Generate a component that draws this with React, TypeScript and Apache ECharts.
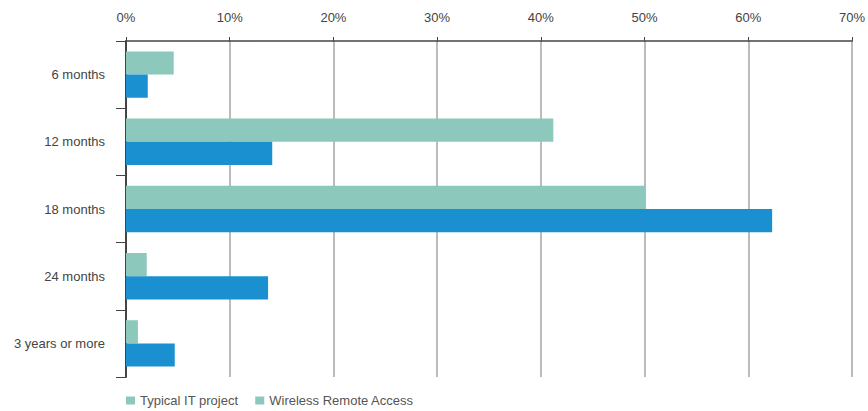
import React, { useEffect, useRef } from "react";
import * as echarts from "echarts";

const categories = ["6 months", "12 months", "18 months", "24 months", "3 years or more"];
const typicalIT = [4.6, 41.2, 50.1, 2.0, 1.15];
const wirelessRemote = [2.1, 14.1, 62.3, 13.7, 4.7];
const seriesNames = ["Typical IT project", "Wireless Remote Access"];

const GREEN = "#8cc8bb";
const BLUE = "#1b90d0";
const FONT = "'Liberation Sans', Arial, sans-serif";

export default function App() {
  const ref = useRef<HTMLDivElement>(null);
  useEffect(() => {
    if (!ref.current) return;
    const chart = echarts.init(ref.current, undefined, { renderer: "svg" });
    chart.setOption({
      animation: false,
      textStyle: { fontFamily: FONT },
      grid: { left: 126, right: 13, top: 41, bottom: 34, containLabel: false },
      legend: {
        left: 121,
        top: 389,
        icon: "rect",
        itemWidth: 9,
        itemHeight: 8,
        itemGap: 17,
        textStyle: { color: "#555", fontSize: 13, fontFamily: FONT },
        data: [
          { name: seriesNames[0], itemStyle: { color: GREEN } },
          { name: seriesNames[1], itemStyle: { color: GREEN } },
        ],
      },
      xAxis: {
        type: "value",
        position: "top",
        min: 0,
        max: 70,
        interval: 10,
        axisLine: { show: true, lineStyle: { color: "#444", width: 1.5 } },
        axisTick: { show: true, length: 4, lineStyle: { color: "#444" } },
        axisLabel: {
          formatter: "{value}%",
          color: "#444",
          fontSize: 13,
          margin: 17,
          fontFamily: FONT,
        },
        splitLine: { show: true, lineStyle: { color: "#bbbbbb", width: 2 } },
      },
      yAxis: {
        type: "category",
        inverse: true,
        data: categories,
        axisLine: { show: true, lineStyle: { color: "#444", width: 2 } },
        axisTick: { show: true, length: 10, lineStyle: { color: "#444" } },
        axisLabel: { color: "#444", fontSize: 13, margin: 21, fontFamily: FONT },
        splitLine: { show: false },
      },
      series: [
        {
          name: seriesNames[0],
          type: "bar",
          data: typicalIT,
          itemStyle: { color: GREEN },
          barGap: "0%",
          barCategoryGap: "31%",
        },
        {
          name: seriesNames[1],
          type: "bar",
          data: wirelessRemote,
          itemStyle: { color: BLUE },
          barGap: "0%",
          barCategoryGap: "31%",
        },
      ],
    });
    return () => chart.dispose();
  }, []);
  return (
    <div
      ref={ref}
      style={{ position: "absolute", left: 0, top: 0, width: 868, height: 411 }}
    />
  );
}
